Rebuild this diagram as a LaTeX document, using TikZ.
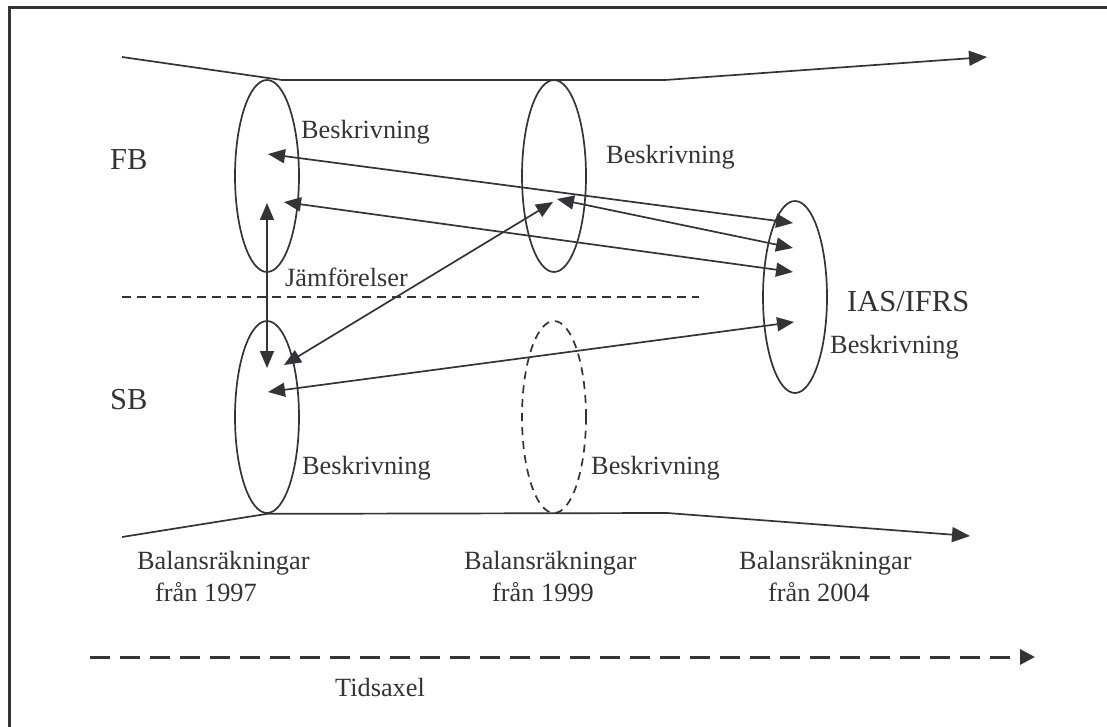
\documentclass[tikz,border=0pt]{standalone}
\usepackage{fontspec}
\setmainfont{Liberation Serif}
\usetikzlibrary{arrows.meta,shapes.geometric}
\definecolor{ink}{HTML}{333338}
\begin{document}
\begin{tikzpicture}[x=1pt,y=-1pt,
  ink/.style={draw=ink,line width=1.7pt},
  oval/.style={ellipse,draw=ink,line width=1.7pt,minimum width=64pt,minimum height=192pt,inner sep=0pt},
  dashoval/.style={oval,dash pattern=on 8pt off 6pt},
  both/.style={ink,{Triangle[length=17pt,width=14pt]}-{Triangle[length=17pt,width=14pt]}},
  big/.style={text=ink,inner sep=0pt,font=\fontsize{30.5}{34}\selectfont},
  small/.style={text=ink,inner sep=0pt,font=\fontsize{26.3}{30}\selectfont}]
\useasboundingbox (0,0) rectangle (1107,727);
% frame (top and left edges)
\draw[draw=ink,line width=3pt] (9.5,727) -- (9.5,7.5) -- (1107,7.5);

% ellipses
\node[oval] (fb97) at (267,176) {};
\node[oval] (fb99) at (554,176) {};
\node[oval] (ias) at (795,297) {};
\node[oval] (sb97) at (267,417) {};
\node[dashoval] (sb99) at (554,417) {};

% funnel lines
\coordinate (t0) at (122,57);
\coordinate (t3) at (987,57);
\coordinate (b0) at (122,537);
\coordinate (b3) at (970,536);
\draw[ink,-{Triangle[length=18pt,width=15pt]}] (t0) -- (282,80) -- (665,80) -- (t3);
\draw[ink,-{Triangle[length=18pt,width=15pt]}] (b0) -- (fb97.south |- sb97.south) -- (667,513) -- (b3);

% separator between FB and SB
\coordinate (s0) at (122,297);
\coordinate (s1) at (699,297);
\draw[draw=ink,line width=1.4pt,dash pattern=on 9pt off 6pt] (s0) -- (s1);

% comparison arrow end points
\coordinate (fbA) at (268,154);
\coordinate (fbB) at (284,202);
\coordinate (fbV) at (267,203);
\coordinate (midA) at (557,199);
\coordinate (midB) at (553,202);
\coordinate (iasA) at (793,223);
\coordinate (iasB) at (793,248);
\coordinate (iasC) at (793,272);
\coordinate (iasD) at (794,322);
\coordinate (sbV) at (267,368);
\coordinate (sbA) at (284,365);
\coordinate (sbB) at (268,392);

\draw[both] (fbA) -- (iasA);
\draw[both] (fbB) -- (iasC);
\draw[both] (midA) -- (iasB);
\draw[both] (sbA) -- (midB);
\draw[both] (fbV) -- (sbV);
\draw[both] (sbB) -- (iasD);

% time axis
\coordinate (ax0) at (90,657);
\coordinate (ax1) at (1035,657);
\draw[draw=ink,line width=3pt,dash pattern=on 20pt off 10pt,-{Triangle[length=15pt,width=15pt]}] (ax0) -- (ax1);

% labels
\node[big,anchor=west] (lfb) at (110,160) {FB};
\node[big,anchor=west] (lsb) at (110,400) {SB};
\node[big,anchor=west] (lias) at (847,302) {IAS/IFRS};
\node[small,anchor=west] (d1) at (301,132) {Beskrivning};
\node[small,anchor=west] (d2) at (606,157) {Beskrivning};
\node[small,anchor=west] (d3) at (830,347) {Beskrivning};
\node[small,anchor=west] (d4) at (302,468) {Beskrivning};
\node[small,anchor=west] (d5) at (591,468) {Beskrivning};
\node[small,anchor=west] (cmp) at (285,277) {Jämförelser};
\node[small,anchor=base west] (y1a) at (137,569) {Balansräkningar};
\node[small,anchor=base west] (y1b) at (155,601) {från 1997};
\node[small,anchor=base west] (y2a) at (464,569) {Balansräkningar};
\node[small,anchor=base west] (y2b) at (492,601) {från 1999};
\node[small,anchor=base west] (y3a) at (739,569) {Balansräkningar};
\node[small,anchor=base west] (y3b) at (768,601) {från 2004};
\node[small] (tid) at (380,687) {Tidsaxel};
\end{tikzpicture}
\end{document}
